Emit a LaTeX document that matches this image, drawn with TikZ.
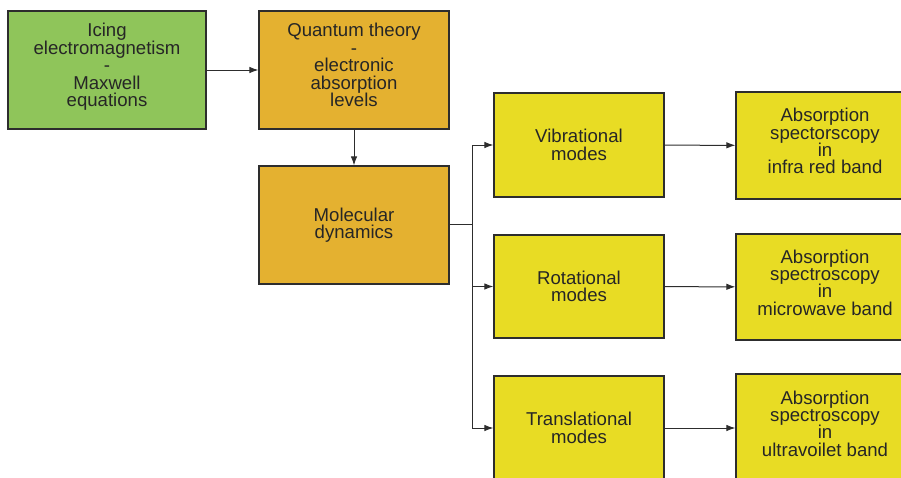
\documentclass[tikz,border=0pt]{standalone}
\usepackage{fontspec}
\setmainfont{Liberation Sans}
\usetikzlibrary{arrows.meta}
\definecolor{boxgreen}{RGB}{143,197,90}
\definecolor{boxorange}{RGB}{228,177,48}
\definecolor{boxyellow}{RGB}{232,220,36}
\definecolor{edgegray}{RGB}{45,45,45}
\newcommand{\lowpad}[1]{\rule[-#1]{0pt}{#1}}
\begin{document}
\begin{tikzpicture}[x=1pt,y=-1pt,
  box/.style={draw=edgegray,line width=1.2pt,align=center,inner sep=0pt,
    font=\fontsize{18.6pt}{17.4pt}\selectfont,text=black!85},
  conn/.style={draw=edgegray,line width=1pt,-{Latex[length=9pt,width=6.5pt]}},
  plain/.style={draw=edgegray,line width=1pt}]
\useasboundingbox (0,0) rectangle (901,477);
\clip (0,0) rectangle (901,477);
\node[box,fill=boxgreen,minimum width=198pt,minimum height=118pt] (ising) at (107,70)
  {Icing\\electromagnetism\\-\\Maxwell\\equations\lowpad{10pt}};
\node[box,fill=boxorange,minimum width=190pt,minimum height=118pt] (quant) at (354,70)
  {Quantum theory\\-\\electronic\\absorption\\levels\lowpad{10pt}};
\node[box,fill=boxorange,minimum width=190pt,minimum height=118pt] (mol) at (354,225)
  {Molecular\\dynamics};
\node[box,fill=boxyellow,minimum width=170pt,minimum height=104pt] (vib) at (579,145)
  {Vibrational\\modes};
\node[box,fill=boxyellow,minimum width=170pt,minimum height=103pt] (rot) at (579,286.5)
  {Rotational\\modes};
\node[box,fill=boxyellow,minimum width=170pt,minimum height=104pt] (trans) at (579,428)
  {Translational\\modes};
\node[box,fill=boxyellow,minimum width=178pt,minimum height=107pt] (absa) at (825,145.5)
  {Absorption\\spectorscopy\\in\\infra red band\lowpad{9pt}};
\node[box,fill=boxyellow,minimum width=178pt,minimum height=106pt] (absb) at (825,287)
  {Absorption\\spectroscopy\\in\\microwave band\lowpad{9pt}};
\node[box,fill=boxyellow,minimum width=178pt,minimum height=108pt] (absc) at (825,428)
  {Absorption\\spectroscopy\\in\\ultravoilet band\lowpad{9pt}};
\coordinate (br) at (472,224);
\draw[conn] (ising) -- (quant);
\draw[conn] (quant) -- (mol);
\draw[plain] (mol.east |- br) -- (br);
\draw[conn] (br) |- (vib.west);
\draw[conn] (br) |- (rot.west);
\draw[conn] (br) |- (trans.west);
\draw[conn] (vib) -- (absa);
\draw[conn] (rot) -- (absb);
\draw[conn] (trans) -- (absc);
\end{tikzpicture}
\end{document}
